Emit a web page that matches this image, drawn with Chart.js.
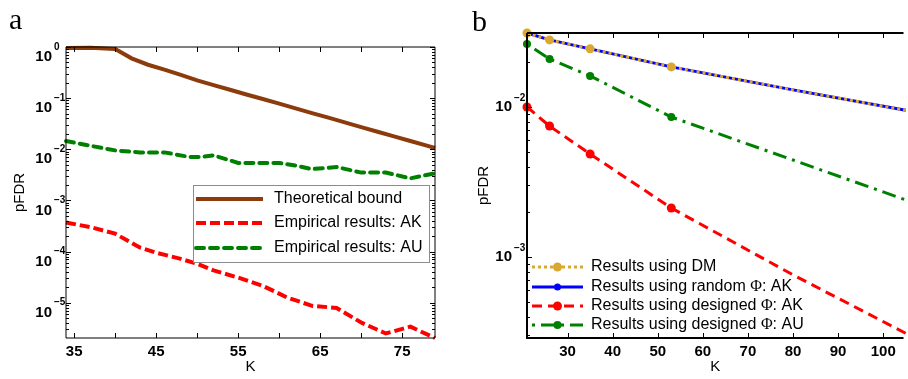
<!DOCTYPE html>
<html>
<head>
<meta charset="utf-8">
<script src="https://cdn.jsdelivr.net/npm/chart.js@4/dist/chart.umd.min.js"></script>
<style>
  body { margin:0; background:#fff; }
  #wrap { position:relative; width:908px; height:379px; overflow:hidden; }
  .panel { position:absolute; top:0; height:379px; }
  #pa { left:0; width:450px; }
  #pb { left:450px; width:458px; }
  .letter { position:absolute; font-family:"Liberation Serif", serif; font-size:30px; line-height:30px; color:#000; }
</style>
</head>
<body>
<div id="wrap">
  <div class="panel" id="pa"><canvas id="chartA"></canvas></div>
  <div class="panel" id="pb"><canvas id="chartB"></canvas></div>
  <div class="letter" style="left:9px;top:4px;">a</div>
  <div class="letter" style="left:472px;top:6px;">b</div>
</div>
<script>
// ---------- data: panel a ----------
const aBoundK = [34, 37, 40, 42, 44, 46, 48, 50, 52, 54, 56, 58, 60, 62, 64, 66, 68, 70, 72, 74, 76, 78, 79];
const aBound  = [0.96, 0.97, 0.91, 0.60, 0.45, 0.36, 0.285, 0.223, 0.18, 0.146, 0.118, 0.096, 0.078, 0.063, 0.051, 0.0415, 0.0336, 0.0272, 0.022, 0.0179, 0.0145, 0.0118, 0.0106];
const aAKK = [34, 37, 40, 43, 45, 48, 50, 52, 55, 58, 61, 64, 67, 70, 73, 76, 79];
const aAK  = [3.7e-4, 3.0e-4, 2.24e-4, 1.2e-4, 9.5e-5, 7.2e-5, 5.75e-5, 4.27e-5, 3.1e-5, 2.14e-5, 1.26e-5, 8.7e-6, 7.9e-6, 4.1e-6, 2.5e-6, 3.4e-6, 2.04e-6];
const aAUK = [34, 37, 40, 43, 46, 49, 50.5, 52, 55, 58, 60, 62, 64, 67, 70, 73, 76, 79];
const aAU  = [0.0145, 0.0117, 0.0095, 0.0087, 0.0087, 0.0071, 0.0071, 0.0076, 0.0054, 0.0054, 0.0054, 0.0048, 0.0041, 0.0045, 0.0035, 0.0035, 0.0027, 0.0034];
const aXTicks = [35, 40, 45, 50, 55, 60, 65, 70, 75];
const aXLabels = [35, 45, 55, 65, 75];
const aYExps = [0, -1, -2, -3, -4, -5];

// ---------- data: panel b ----------
const bK = [21, 26, 35, 53, 80, 105];
const bDM = [0.0311, 0.028, 0.0244, 0.0185, 0.013, 0.0095];
const bRandAK = [0.0311, 0.028, 0.0244, 0.0185, 0.013, 0.0095];
const bDesAK = [0.0100, 0.00746, 0.00486, 0.00212, 7.6e-4, 3.1e-4];
const bDesAU = [0.0263, 0.0209, 0.0161, 0.00857, 0.00443, 0.0024];
const bMarked = 4; // first 4 points carry markers
const bXTicks = [30, 40, 50, 60, 70, 80, 90, 100];
const bYExps = [-2, -3];

const pts = (xs, ys) => xs.map((x, i) => ({ x, y: ys[i] }));
const marks = (r) => bK.map((_, i) => i < bMarked ? r : 0);

// box, inward ticks and 10^n labels, matlab style
const matlabAxes = {
  id: 'matlabAxes',
  afterDraw(chart, args, o) {
    const { ctx, chartArea: a, scales: { x, y } } = chart;
    ctx.save();
    ctx.strokeStyle = '#000';
    ctx.lineWidth = o.lw;
    ctx.beginPath();
    ctx.moveTo(a.left, a.top); ctx.lineTo(a.left, a.bottom); ctx.lineTo(a.right, a.bottom);
    ctx.moveTo(a.left, a.top); ctx.lineTo(a.right, a.top);
    if (o.rightBox) { ctx.lineTo(a.right, a.bottom); }
    ctx.stroke();

    ctx.lineWidth = 1;
    ctx.beginPath();
    o.xTicks.forEach(v => {
      const px = Math.round(x.getPixelForValue(v)) + 0.5;
      ctx.moveTo(px, a.bottom); ctx.lineTo(px, a.bottom - 5);
      ctx.moveTo(px, a.top); ctx.lineTo(px, a.top + 5);
    });
    const lo = Math.floor(Math.log10(y.min)), hi = Math.ceil(Math.log10(y.max));
    for (let e = lo; e <= hi; e++) {
      for (let m = 1; m < 10; m++) {
        const v = m * Math.pow(10, e);
        if (v < y.min || v > y.max) continue;
        const py = Math.round(y.getPixelForValue(v)) + 0.5;
        const len = m === 1 ? 5 : 3;
        ctx.moveTo(a.left, py); ctx.lineTo(a.left + len, py);
        if (o.rightBox) { ctx.moveTo(a.right, py); ctx.lineTo(a.right - len, py); }
      }
    }
    ctx.stroke();

    ctx.fillStyle = '#000';
    o.yExps.forEach(e => {
      const py = y.getPixelForValue(Math.pow(10, e));
      ctx.textBaseline = 'middle';
      ctx.font = 'bold 15px "Liberation Sans", Arial, sans-serif';
      ctx.textAlign = 'right';
      ctx.fillText('10', o.labelRight, py + o.baseDy);
      ctx.font = 'bold 10px "Liberation Sans", Arial, sans-serif';
      ctx.textAlign = 'left';
      ctx.fillText(e === 0 ? '0' : '\u2212' + (-e), o.labelRight + 2, py + o.expDy);
    });
    ctx.restore();
  }
};

// legend drawn inside the plot area
const inLegend = {
  id: 'inLegend',
  afterDraw(chart, args, o) {
    const ctx = chart.ctx;
    ctx.save();
    if (o.box) {
      ctx.fillStyle = '#fff';
      ctx.fillRect(o.box[0], o.box[1], o.box[2], o.box[3]);
      ctx.strokeStyle = '#8c8c8c';
      ctx.lineWidth = 1;
      ctx.strokeRect(o.box[0] + 0.5, o.box[1] + 0.5, o.box[2], o.box[3]);
    }
    chart.data.datasets.forEach((ds, i) => {
      const yy = o.rows[i];
      ctx.strokeStyle = ds.borderColor;
      ctx.lineWidth = ds.borderWidth;
      ctx.lineCap = ds.borderCapStyle || 'butt';
      ctx.setLineDash(ds.borderDash || []);
      ctx.beginPath();
      ctx.moveTo(o.x0, yy); ctx.lineTo(o.x1, yy);
      ctx.stroke();
      ctx.setLineDash([]);
      if (ds.legendMarker) {
        ctx.fillStyle = ds.borderColor;
        ctx.beginPath();
        ctx.arc((o.x0 + o.x1) / 2, yy, ds.legendMarker, 0, Math.PI * 2);
        ctx.fill();
      }
      // label, with Φ set in a serif face
      ctx.fillStyle = '#000';
      ctx.textBaseline = 'middle';
      ctx.textAlign = 'left';
      let tx = o.tx;
      ds.label.split(/(\u03A6)/).forEach(part => {
        if (!part) return;
        ctx.font = part === '\u03A6' ? '16px "Liberation Serif", serif' : '16px "Liberation Sans", Arial, sans-serif';
        ctx.fillText(part, tx, yy);
        tx += ctx.measureText(part).width;
      });
    });
    ctx.restore();
  }
};

Chart.register(matlabAxes, inLegend);

function xAxis(min, max, ticks, shown, h) {
  return {
    type: 'linear', min, max,
    grid: { display: false, drawTicks: false },
    border: { display: false },
    afterBuildTicks: s => { s.ticks = ticks.map(v => ({ value: v })); },
    afterFit: s => { s.height = h; },
    ticks: {
      color: '#000', padding: 5, maxRotation: 0, autoSkip: false,
      font: { family: '"Liberation Sans", Arial, sans-serif', size: 15, weight: 'bold' },
      callback: v => shown.includes(v) ? String(v) : ''
    },
    title: {
      display: true, text: 'K', color: '#000', padding: { top: 0, bottom: 3 },
      font: { family: '"Liberation Sans", Arial, sans-serif', size: 15 }
    }
  };
}

function yAxis(min, max, w, tpad) {
  return {
    type: 'logarithmic', min, max,
    grid: { display: false, drawTicks: false },
    border: { display: false },
    ticks: { display: false },
    afterFit: s => { s.width = w; },
    title: {
      display: true, text: 'pFDR', color: '#000', padding: { top: tpad, bottom: 0 },
      font: { family: '"Liberation Sans", Arial, sans-serif', size: 15 }
    }
  };
}

const common = {
  responsive: false, animation: false, maintainAspectRatio: false,
  elements: { line: { tension: 0 } },
  plugins: { legend: { display: false }, tooltip: { enabled: false } }
};

function makeCanvas(id, w) {
  const c = document.getElementById(id);
  c.width = w; c.height = 379;
  c.style.width = w + 'px'; c.style.height = '379px';
  return c;
}

// ---------- panel a ----------
new Chart(makeCanvas('chartA', 450), {
  type: 'line',
  data: {
    datasets: [
      { label: 'Theoretical bound', data: pts(aBoundK, aBound), borderColor: 'rgb(140,60,12)', borderWidth: 4, pointRadius: 0, clip: 4 },
      { label: 'Empirical results: AK', data: pts(aAKK, aAK), borderColor: 'rgb(255,0,0)', borderWidth: 4, borderDash: [10, 4], pointRadius: 0, clip: 4 },
      { label: 'Empirical results: AU', data: pts(aAUK, aAU), borderColor: 'rgb(0,128,0)', borderWidth: 4, borderDash: [8, 6], borderCapStyle: 'round', pointRadius: 0, clip: 4 }
    ]
  },
  options: Object.assign({}, common, {
    layout: { padding: { top: 47, right: 15, left: 0, bottom: 0 } },
    scales: {
      x: xAxis(34, 79, aXTicks, aXLabels, 41),
      y: yAxis(Math.pow(10, -5.69), 1, 66, 11)
    },
    plugins: Object.assign({}, common.plugins, {
      matlabAxes: { lw: 1, rightBox: true, xTicks: aXTicks, yExps: aYExps, labelRight: 52, baseDy: 10, expDy: 0 },
      inLegend: { box: [193, 185, 236, 77], rows: [199, 223, 248], x0: 196, x1: 263, tx: 274 }
    })
  })
});

// ---------- panel b ----------
new Chart(makeCanvas('chartB', 458), {
  type: 'line',
  data: {
    datasets: [
      { label: 'Results using DM', data: pts(bK, bDM), borderColor: 'rgb(218,168,48)', borderWidth: 3, borderDash: [3, 3], pointRadius: marks(4.5), pointBackgroundColor: 'rgb(218,168,48)', pointBorderWidth: 0, legendMarker: 4.5, clip: 5 },
      { label: 'Results using random \u03A6: AK', data: pts(bK, bRandAK), borderColor: 'rgb(0,0,255)', borderWidth: 3, pointRadius: marks(3.5), pointBackgroundColor: 'rgb(0,0,255)', pointBorderWidth: 0, legendMarker: 3.5, clip: 5 },
      { label: 'Results using designed \u03A6: AK', data: pts(bK, bDesAK), borderColor: 'rgb(255,0,0)', borderWidth: 3, borderDash: [10, 6], pointRadius: marks(4.5), pointBackgroundColor: 'rgb(255,0,0)', pointBorderWidth: 0, legendMarker: 4.5, clip: 5 },
      { label: 'Results using designed \u03A6: AU', data: pts(bK, bDesAU), borderColor: 'rgb(0,128,0)', borderWidth: 3, borderDash: [3, 6, 14, 6], pointRadius: marks(4), pointBackgroundColor: 'rgb(0,128,0)', pointBorderWidth: 0, legendMarker: 4, clip: 5 }
    ]
  },
  options: Object.assign({}, common, {
    layout: { padding: { top: 33, right: 2, left: 0, bottom: 0 } },
    scales: {
      x: xAxis(21, 104.5, bXTicks, bXTicks, 41),
      y: yAxis(Math.pow(10, -3.54), Math.pow(10, -1.507), 77, 25)
    },
    plugins: Object.assign({}, common.plugins, {
      matlabAxes: { lw: 2, rightBox: false, xTicks: bXTicks, yExps: bYExps, labelRight: 62, baseDy: 0, expDy: -9 },
      inLegend: { rows: [267, 287, 306, 325], x0: 82, x1: 133, tx: 141 }
    })
  })
});
</script>
</body>
</html>
